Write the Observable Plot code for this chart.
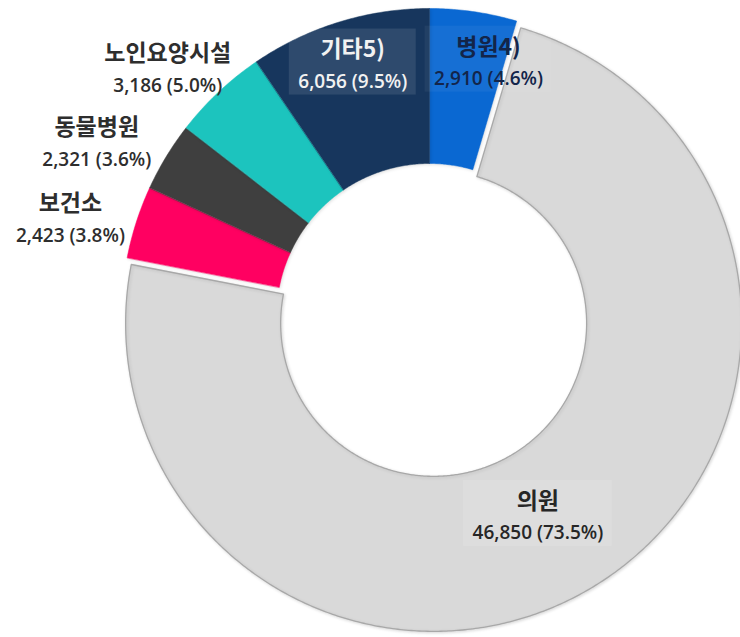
<!DOCTYPE html>
<html>
<head>
<meta charset="utf-8">
<script src="https://cdn.jsdelivr.net/npm/d3@7"></script>
<script src="https://cdn.jsdelivr.net/npm/@observablehq/plot@0.6"></script>
<style>
  html, body { margin: 0; padding: 0; background: #ffffff; }
  #chart svg { display: block; }
  #chart svg g[aria-label="line"] path { filter: drop-shadow(1px 1.5px 1.5px rgba(0,0,0,0.12)); }
</style>
</head>
<body>
<div id="chart"></div>
<script>
// ---- data (clockwise from 12 o'clock) ----
const categories   = ["병원4)", "의원", "보건소", "동물병원", "노인요양시설", "기타5)"];
const counts       = [2910, 46850, 2423, 2321, 3186, 6056];
const countLabels  = ["2,910", "46,850", "2,423", "2,321", "3,186", "6,056"];
const percentLabels = ["4.6%", "73.5%", "3.8%", "3.6%", "5.0%", "9.5%"];

// ---- style / layout ----
const sliceColors = ["#0A68D2", "#D9D9D9", "#FF0061", "#3F3F3F", "#1CC4BE", "#17365D"];
const W = 740, H = 637;
const CX = 429, CY = 316;        // donut centre (px)
const R_OUT = 308, R_IN = 153;   // radii (px)
const explodeBy = {"의원": 8};
// label placement: radial distance from centre + small nudge
const labelLayout = {
  "병원4)":      {r: 259, dx: 22,  dy: 3,  color: "#13254A", box: 0.05},
  "의원":        {r: 220, dx: -10, dy: 6,  color: "#262626", box: 0.12},
  "보건소":      {r: 372, dx: -5,  dy: 17, color: "#2E2E2E", box: 0},
  "동물병원":    {r: 374, dx: -13, dy: 21, color: "#2E2E2E", box: 0},
  "노인요양시설": {r: 359, dx: -16, dy: 15, color: "#2E2E2E", box: 0},
  "기타5)":      {r: 261, dx: 0,   dy: -1, color: "#F2F2F2", box: 0.1}
};
const NAME_FONT = 23, VALUE_FONT = 19;

// ---- geometry from data ----
const arcs = d3.pie().sort(null).value(d => d)(counts);
const polar = (r, a) => [r * Math.sin(a), -r * Math.cos(a)];

const slicePts = [];
const labels = [];
arcs.forEach((arc, i) => {
  const name = categories[i];
  const mid = (arc.startAngle + arc.endAngle) / 2;
  const ex = explodeBy[name] || 0;
  const [ox, oy] = polar(ex, mid);
  const steps = Math.max(4, Math.ceil((arc.endAngle - arc.startAngle) / (Math.PI / 360)));
  for (let k = 0; k <= steps; k++) {
    const a = arc.startAngle + (arc.endAngle - arc.startAngle) * k / steps;
    const [x, y] = polar(R_OUT, a);
    slicePts.push({name, x: x + ox, y: y + oy});
  }
  for (let k = steps; k >= 0; k--) {
    const a = arc.startAngle + (arc.endAngle - arc.startAngle) * k / steps;
    const [x, y] = polar(R_IN, a);
    slicePts.push({name, x: x + ox, y: y + oy});
  }
  const L = labelLayout[name];
  const [lx, ly] = polar(L.r, mid);
  labels.push({
    name,
    value: `${countLabels[i]} (${percentLabels[i]})`,
    x: lx + ox + L.dx,
    y: ly + oy + L.dy,
    color: L.color,
    box: L.box
  });
});

// text widths for label boxes
const ctx = document.createElement("canvas").getContext("2d");
function textW(t, font) { ctx.font = font; return ctx.measureText(t).width; }
labels.forEach(l => {
  const w = Math.max(
    textW(l.name, `bold ${NAME_FONT}px "Noto Sans CJK KR"`),
    textW(l.value, `600 ${VALUE_FONT}px "Open Sans"`)
  );
  l.x1 = l.x - w / 2 - 9; l.x2 = l.x + w / 2 + 9;
  l.y1 = l.y - 37; l.y2 = l.y + 29;
});

const textColors = Array.from(new Set(labels.map(l => l.color)));

const chart = Plot.plot({
  width: W,
  height: H,
  margin: 0,
  x: {type: "linear", domain: [-CX, W - CX], range: [0, W], axis: null},
  y: {type: "linear", domain: [-CY, H - CY], range: [0, H], axis: null},
  color: {domain: categories, range: sliceColors},
  marks: [
    Plot.line(slicePts, {x: "x", y: "y", z: "name", fill: "name", stroke: "name", strokeWidth: 0.5, curve: "linear-closed"}),
    Plot.line(slicePts.filter(d => d.name === "의원"), {x: "x", y: "y", z: "name", stroke: "#A8A8A8", strokeWidth: 1.3, curve: "linear-closed"}),
    ...labels.filter(l => l.box > 0).map(l =>
      Plot.rect([l], {x1: "x1", x2: "x2", y1: "y1", y2: "y2", fill: "#ffffff", fillOpacity: l.box})
    ),
    ...textColors.map(c => Plot.text(labels.filter(l => l.color === c), {
      x: "x", y: "y", text: "name", dy: -16, fill: c,
      fontSize: NAME_FONT, fontWeight: "bold", fontFamily: "'Noto Sans CJK KR', sans-serif"
    })),
    ...textColors.map(c => Plot.text(labels.filter(l => l.color === c), {
      x: "x", y: "y", text: "value", dy: 16, fill: c,
      fontSize: VALUE_FONT, fontWeight: 600, fontFamily: "'Open Sans', 'Noto Sans CJK KR', sans-serif"
    }))
  ]
});

document.getElementById("chart").appendChild(chart);
</script>
</body>
</html>
